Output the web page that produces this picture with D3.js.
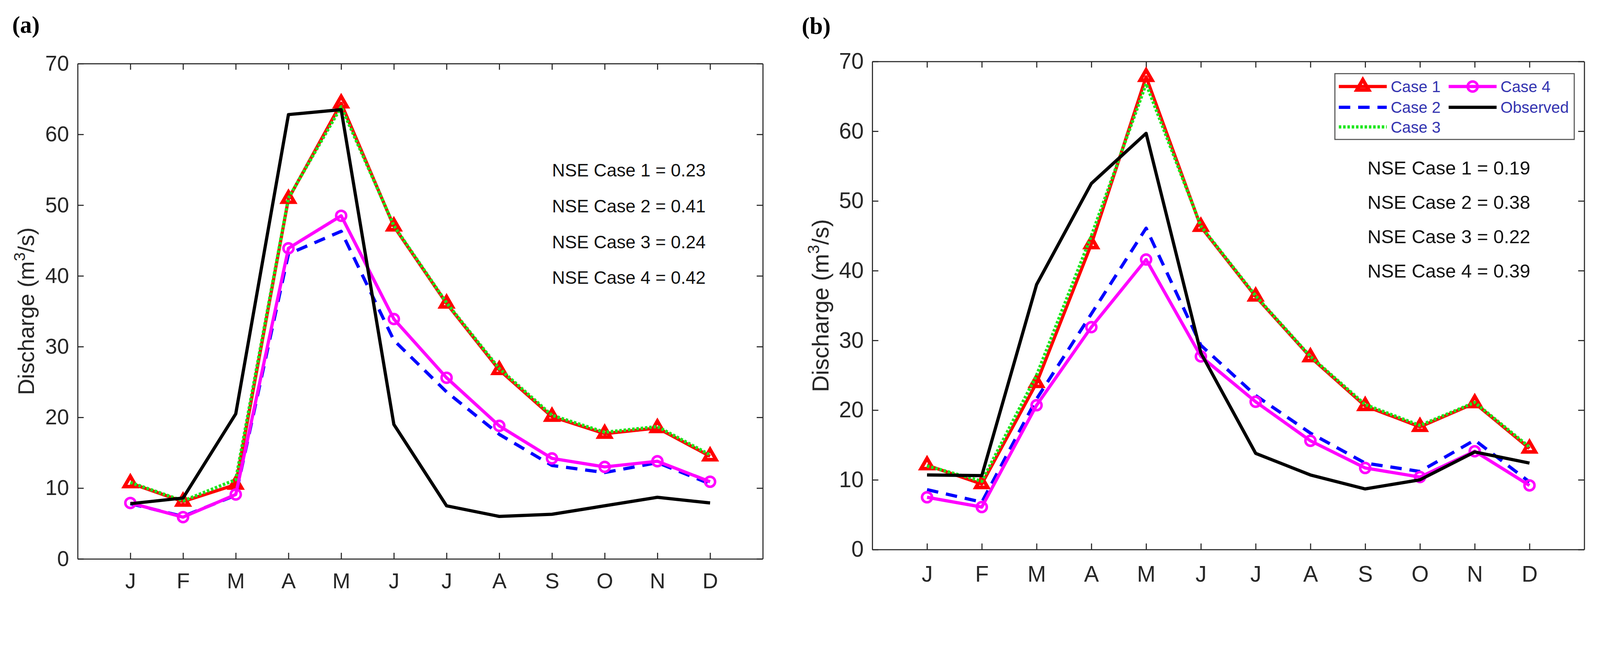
<!doctype html>
<html>
<head>
<meta charset="utf-8">
<script src="https://cdnjs.cloudflare.com/ajax/libs/d3/7.8.5/d3.min.js"></script>
<style>
  html, body { margin: 0; padding: 0; width: 100%; height: 100%; overflow: hidden; background: #fff; }
  svg { display: block; width: 100vw; height: 100vh; }
  .axis path, .axis line { stroke: #262626; stroke-width: 3; }
  .axis text { fill: #262626; font-family: "Liberation Sans", Arial, sans-serif; }
  text.ylab { font-family: "Liberation Sans", Arial, sans-serif; fill: #262626; }
  text.nse { font-family: "Liberation Sans", Arial, sans-serif; fill: #111; }
  text.panel { font-family: "Liberation Serif", "DejaVu Serif", serif; font-weight: bold; fill: #000; }
  text.leg { font-family: "Liberation Sans", Arial, sans-serif; fill: #3434b0; }
</style>
</head>
<body>
<svg id="chart" viewBox="0 0 4472 1683" preserveAspectRatio="xMidYMin meet"></svg>
<script>
// month ticks and y ticks
var months = ["J", "F", "M", "A", "M", "J", "J", "A", "S", "O", "N", "D"];
var yTicks = [0, 10, 20, 30, 40, 50, 60, 70];

// panel (a) discharge, m3/s
var obsA   = [7.8, 8.6, 20.5, 62.8, 63.5, 19.0, 7.5, 6.0, 6.3, 7.5, 8.7, 7.9];
var case1A = [10.7, 8.1, 10.5, 50.9, 64.4, 47.0, 36.1, 26.7, 20.1, 17.7, 18.5, 14.5];
var case2A = [7.8, 6.0, 9.0, 43.1, 46.3, 30.9, 23.6, 17.6, 13.2, 12.2, 13.6, 10.6];
var case3A = [10.8, 8.2, 11.2, 51.0, 63.9, 47.1, 36.2, 26.9, 20.3, 17.9, 18.7, 14.7];
var case4A = [7.9, 5.9, 9.1, 43.9, 48.5, 33.9, 25.6, 18.8, 14.2, 13.0, 13.8, 10.9];
var nseA   = ["NSE Case 1 = 0.23", "NSE Case 2 = 0.41", "NSE Case 3 = 0.24", "NSE Case 4 = 0.42"];

// panel (b)
var obsB   = [10.7, 10.6, 38.0, 52.5, 59.7, 28.2, 13.8, 10.7, 8.7, 10.0, 14.0, 12.4];
var case1B = [12.1, 9.4, 23.9, 43.8, 67.8, 46.3, 36.3, 27.6, 20.6, 17.6, 21.0, 14.5];
var case2B = [8.6, 6.8, 21.6, 33.8, 46.1, 29.3, 22.1, 16.7, 12.4, 11.2, 15.7, 9.7];
var case3B = [12.0, 9.8, 25.0, 45.0, 66.8, 46.4, 36.4, 27.7, 20.8, 17.8, 21.1, 14.7];
var case4B = [7.5, 6.1, 20.7, 31.9, 41.6, 27.7, 21.2, 15.6, 11.7, 10.4, 14.1, 9.2];
var nseB   = ["NSE Case 1 = 0.19", "NSE Case 2 = 0.38", "NSE Case 3 = 0.22", "NSE Case 4 = 0.39"];

var seriesNames = ["Case 1", "Case 2", "Case 3", "Case 4", "Observed"];

var styles = {
  "Case 1":   {color: "#ff0000", dash: null,    marker: "tri"},
  "Case 2":   {color: "#0000ff", dash: "32,22", marker: null},
  "Case 3":   {color: "#1ee61e", dash: "7,5",   marker: null},
  "Case 4":   {color: "#ff00ff", dash: null,    marker: "circ"},
  "Observed": {color: "#000000", dash: null,    marker: null}
};

var svg = d3.select("#chart");

function drawPanel(p) {
  var g = svg.append("g");
  var x = d3.scaleLinear().domain([0, 13]).range([p.left, p.right]);
  var y = d3.scaleLinear().domain([0, 70]).range([p.bottom, p.top]);
  var idx = d3.range(1, 13);

  // box with inward ticks on all sides
  g.append("g").attr("class", "axis").attr("transform", "translate(0," + p.bottom + ")")
    .call(d3.axisBottom(x).tickValues(idx).tickFormat(function (d) { return months[d - 1]; })
      .tickSizeInner(-17).tickSizeOuter(0).tickPadding(p.xpad))
    .selectAll("text").attr("font-size", p.tickFont);
  g.append("g").attr("class", "axis").attr("transform", "translate(0," + p.top + ")")
    .call(d3.axisTop(x).tickValues(idx).tickFormat("").tickSizeInner(-17).tickSizeOuter(0));
  g.append("g").attr("class", "axis").attr("transform", "translate(" + p.left + ",0)")
    .call(d3.axisLeft(y).tickValues(yTicks).tickSizeInner(-17).tickSizeOuter(0).tickPadding(24))
    .selectAll("text").attr("font-size", p.tickFont);
  g.append("g").attr("class", "axis").attr("transform", "translate(" + p.right + ",0)")
    .call(d3.axisRight(y).tickValues(yTicks).tickFormat("").tickSizeInner(-17).tickSizeOuter(0));

  // y label
  var yl = g.append("text").attr("class", "ylab")
    .attr("transform", "translate(" + (p.left - 122) + "," + ((p.top + p.bottom) / 2) + ") rotate(-90)")
    .attr("text-anchor", "middle").attr("font-size", p.labFont);
  yl.append("tspan").text("Discharge (m");
  yl.append("tspan").attr("dy", -p.labFont * 0.4).attr("font-size", p.labFont * 0.7).text("3");
  yl.append("tspan").attr("dy", p.labFont * 0.4).text("/s)");

  // panel tag
  g.append("text").attr("class", "panel").attr("x", p.tagX).attr("y", p.tagY)
    .attr("font-size", 66).text(p.tag);

  var line = d3.line().x(function (d, i) { return x(i + 1); }).y(function (d) { return y(d); });

  seriesNames.forEach(function (name, k) {
    var st = styles[name];
    var vals = p.data[k];
    g.append("path").datum(vals).attr("d", line)
      .attr("fill", "none").attr("stroke", st.color).attr("stroke-width", 9)
      .attr("stroke-linejoin", "round")
      .attr("stroke-dasharray", st.dash);
    if (st.marker === "tri") {
      g.selectAll(null).data(vals).enter().append("path")
        .attr("d", d3.symbol(d3.symbolTriangle, 480))
        .attr("transform", function (d, i) { return "translate(" + x(i + 1) + "," + y(d) + ")"; })
        .attr("fill", "none").attr("stroke", st.color).attr("stroke-width", 10);
    }
    if (st.marker === "circ") {
      g.selectAll(null).data(vals).enter().append("circle")
        .attr("cx", function (d, i) { return x(i + 1); })
        .attr("cy", function (d) { return y(d); })
        .attr("r", 14).attr("fill", "none").attr("stroke", st.color).attr("stroke-width", 7);
    }
  });

  // NSE annotations
  g.selectAll(null).data(p.nse).enter().append("text").attr("class", "nse")
    .attr("x", p.nseX).attr("y", function (d, i) { return p.nseY + i * p.nseStep; })
    .attr("font-size", p.nseFont).text(function (d) { return d; });

  return g;
}

drawPanel({
  left: 217, right: 2132, top: 178, bottom: 1563, xpad: 40, tickFont: 60, labFont: 63,
  tag: "(a)", tagX: 34, tagY: 92,
  data: [case1A, case2A, case3A, case4A, obsA],
  nse: nseA, nseX: 1543, nseY: 494, nseStep: 100, nseFont: 50
});

var gb = drawPanel({
  left: 2438, right: 4428, top: 172, bottom: 1537, xpad: 46, tickFont: 62, labFont: 65,
  tag: "(b)", tagX: 2241, tagY: 95,
  data: [case1B, case2B, case3B, case4B, obsB],
  nse: nseB, nseX: 3822, nseY: 488, nseStep: 96, nseFont: 53
});

// legend in panel (b), two columns filled column-wise
var legCols = [[0, 1, 2], [3, 4]];
var leg = gb.append("g");
leg.append("rect").attr("x", 3731).attr("y", 206).attr("width", 669).attr("height", 184)
  .attr("fill", "#fff").attr("stroke", "#555").attr("stroke-width", 3);
var colX = [3742, 4049];
var rowY = [242, 300, 355];
legCols.forEach(function (col, c) {
  col.forEach(function (k, r) {
    var name = seriesNames[k], st = styles[name];
    var x0 = colX[c], x1 = colX[c] + 134, yy = rowY[r];
    leg.append("line").attr("x1", x0).attr("x2", x1).attr("y1", yy).attr("y2", yy)
      .attr("stroke", st.color).attr("stroke-width", 9).attr("stroke-dasharray", st.dash);
    if (st.marker === "tri") {
      leg.append("path").attr("d", d3.symbol(d3.symbolTriangle, 480))
        .attr("transform", "translate(" + (x0 + 67) + "," + yy + ")")
        .attr("fill", "none").attr("stroke", st.color).attr("stroke-width", 10);
    }
    if (st.marker === "circ") {
      leg.append("circle").attr("cx", x0 + 67).attr("cy", yy).attr("r", 14)
        .attr("fill", "none").attr("stroke", st.color).attr("stroke-width", 7);
    }
    leg.append("text").attr("class", "leg").attr("x", x1 + 11).attr("y", yy + 16)
      .attr("font-size", 44).text(name);
  });
});
</script>
</body>
</html>
